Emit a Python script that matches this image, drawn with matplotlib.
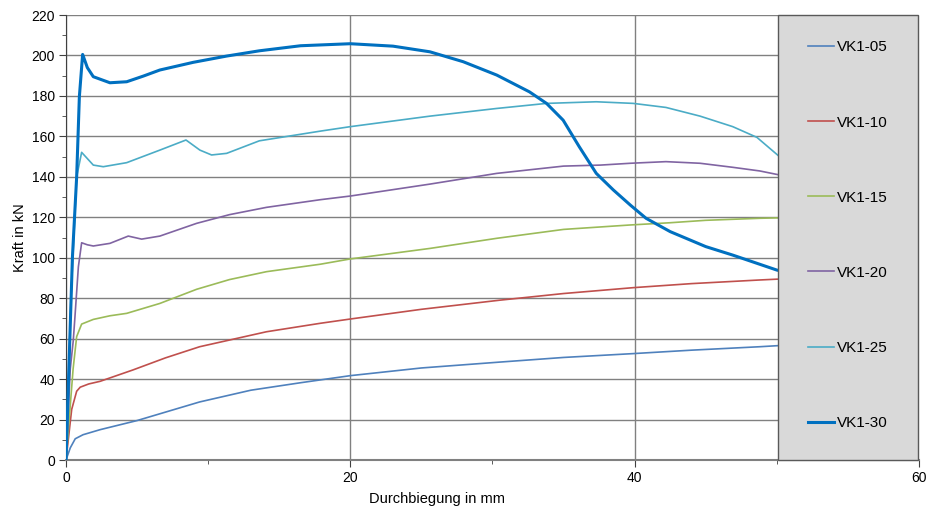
import matplotlib
matplotlib.use("Agg")
import matplotlib.pyplot as plt
from matplotlib.patches import Rectangle
from matplotlib.ticker import MultipleLocator

plt.rcParams['font.family'] = ['Liberation Sans', 'DejaVu Sans']

# --- data ---
x05 = [0, 0.3, 0.65, 1.2, 2.4, 5, 9.4, 13, 16.5, 20, 25, 30.5, 35, 39.9, 44, 48.8, 50, 55, 60]
y05 = [0, 6, 10.5, 12.5, 15, 19.5, 28.7, 34.5, 38.2, 41.7, 45.5, 48.4, 50.7, 52.6, 54.3, 56.0, 56.5, 58, 59.3]

x10 = [0, 0.4, 0.75, 1.0, 1.6, 2.4, 4.7, 7, 9.4, 14.1, 17.9, 20, 25, 30.5, 35, 39.9, 44, 48.8, 50, 55, 60]
y10 = [0, 25, 34, 36, 37.6, 38.9, 44.5, 50.5, 56, 63.4, 67.6, 69.7, 74.5, 79, 82.3, 85.2, 87.2, 89, 89.4, 90.2, 90.6]

x15 = [0, 0.5, 0.75, 1.1, 1.92, 3.09, 4.27, 6.6, 9.19, 11.5, 14.1, 17.9, 20, 25.6, 30.3, 35, 39.7, 42.5, 45, 48.8, 50, 55, 60]
y15 = [0, 45, 61, 67.2, 69.5, 71.3, 72.5, 77.4, 84.4, 89.2, 93.1, 96.8, 99.4, 104.6, 109.6, 114, 116.2, 117.3, 118.5, 119.5, 119.7, 117, 112.9]

x20 = [0, 0.3, 0.51, 0.63, 0.87, 1.1, 1.5, 1.92, 3.09, 4.38, 5.32, 6.6, 9.19, 11.5, 14.1, 17.9, 20, 25.6, 30.3, 35, 37.6, 39.7, 42.2, 44.6, 46.9, 48.8, 50.2, 55]
y20 = [0, 45, 59, 70.8, 95.5, 107.4, 106.4, 105.8, 107.1, 110.7, 109.2, 110.7, 117, 121.3, 124.9, 128.7, 130.5, 136.4, 141.7, 145.3, 145.8, 146.7, 147.5, 146.7, 144.7, 142.9, 140.9, 130]

x25 = [0, 0.35, 0.75, 1.1, 1.92, 2.62, 4.27, 6.6, 8.44, 9.42, 10.24, 11.3, 13.6, 17.9, 20, 25.6, 30.3, 33.8, 37.3, 39.9, 42.2, 44.6, 46.9, 48.6, 50.2, 55, 60]
y25 = [0, 80, 140, 152.1, 145.8, 145, 147, 153.2, 158.2, 153.2, 150.8, 151.6, 157.8, 162.6, 164.8, 170, 173.8, 176.3, 177.1, 176.3, 174.3, 170, 164.8, 159.5, 149.9, 118, 93]

x30 = [0, 0.45, 0.75, 0.94, 1.17, 1.5, 1.92, 3.09, 4.27, 5.44, 6.6, 8.95, 11.3, 13.6, 16.5, 20, 23, 25.6, 27.94, 30.3, 32.6, 33.8, 34.97, 36.1, 37.3, 38.5, 39.7, 40.8, 42.5, 45, 46.9, 50, 55, 60]
y30 = [0, 100, 140, 179.6, 200.5, 194, 189.5, 186.5, 187, 189.8, 192.8, 196.6, 199.7, 202.3, 204.8, 205.8, 204.6, 201.8, 196.9, 190.3, 182, 176.3, 168, 154.9, 141.7, 133.5, 126, 119.5, 112.9, 105.5, 101.3, 93.9, 86, 81.6]

series = [
    ("VK1-05", x05, y05, "#4F81BD", 1.2),
    ("VK1-10", x10, y10, "#C0504D", 1.2),
    ("VK1-15", x15, y15, "#9BBB59", 1.2),
    ("VK1-20", x20, y20, "#8064A2", 1.2),
    ("VK1-25", x25, y25, "#4BACC6", 1.2),
    ("VK1-30", x30, y30, "#0070C0", 2.2),
]

fig = plt.figure(figsize=(9.28, 5.16), dpi=100)
ax = fig.add_axes([66/928, 56/516, 853/928, 445/516])

for name, xs, ys, c, lw in series:
    ax.plot(xs, ys, color=c, lw=lw, label=name, solid_joinstyle='round', zorder=3)

ax.set_xlim(0, 60)
ax.set_ylim(0, 220)
ax.xaxis.set_major_locator(MultipleLocator(20))
ax.xaxis.set_minor_locator(MultipleLocator(10))
ax.yaxis.set_major_locator(MultipleLocator(20))
ax.yaxis.set_minor_locator(MultipleLocator(10))
ax.grid(True, which='major', color='#808080', lw=1.0, zorder=1)
ax.set_axisbelow(True)
ax.tick_params(which='major', direction='out', length=5, color='#404040', labelsize=10, pad=3)
ax.tick_params(which='minor', direction='out', length=3, color='#404040')
for s in ['top', 'right']:
    ax.spines[s].set_visible(False)
ax.spines['left'].set_color('#404040')
ax.spines['bottom'].set_color('#808080')
ax.spines['bottom'].set_linewidth(1.5)

ax.set_xlabel("Durchbiegung in mm", fontsize=10.5)
ax.set_ylabel("Kraft in kN", fontsize=10.5)
ax.xaxis.set_label_coords(0.435, -0.072)
ax.yaxis.set_label_coords(-0.046, 0.5)

# legend box
rect = Rectangle((50.1, 0), 9.85, 220, facecolor='#D9D9D9', edgecolor='#595959',
                 lw=1.0, zorder=5, clip_on=False)
ax.add_patch(rect)
leg = ax.legend(loc='center', bbox_to_anchor=(0.917, 0.505), frameon=False,
                fontsize=11, labelspacing=4.0, handlelength=1.7, handletextpad=0.2)
leg.set_zorder(6)

fig.savefig("out.png", dpi=100)
